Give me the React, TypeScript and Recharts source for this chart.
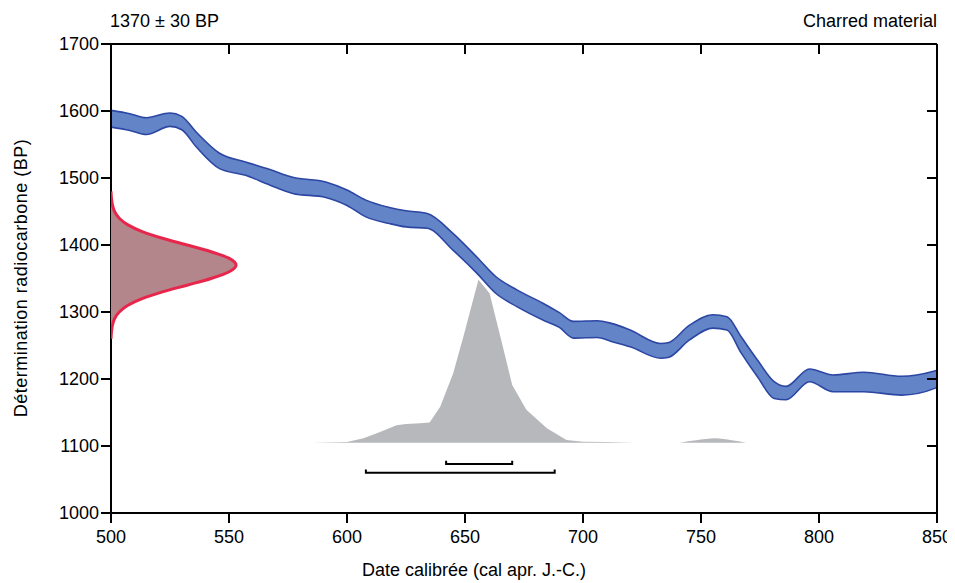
import { Area, ComposedChart, Line, XAxis, YAxis } from 'recharts'

// calibration curve band (cal AD, lower BP, upper BP)
const bandYears = [500, 508, 515, 525, 530, 536, 546, 557, 567, 577, 591, 600, 608, 618, 625, 634, 645, 655, 663, 672, 683, 690, 696, 706, 712, 720, 733, 736, 745, 755, 761, 767, 774, 781, 786, 796, 806, 819, 835, 849, 850]
const bandLow = [1576, 1571, 1565, 1577, 1572, 1547, 1514, 1504, 1490, 1477, 1471, 1459, 1442, 1432, 1427, 1425, 1392, 1358, 1328, 1308, 1288, 1277, 1261, 1262, 1256, 1248, 1231, 1232, 1258, 1276, 1273, 1239, 1203, 1171, 1169, 1196, 1181, 1181, 1176, 1186, 1188]
const bandHigh = [1601, 1596, 1590, 1597, 1592, 1569, 1537, 1524, 1513, 1501, 1494, 1482, 1467, 1456, 1451, 1447, 1417, 1382, 1353, 1333, 1313, 1299, 1286, 1287, 1283, 1273, 1253, 1254, 1280, 1296, 1293, 1263, 1228, 1196, 1189, 1215, 1206, 1210, 1204, 1212, 1213]

// calibrated probability (drawn on top of base 1105)
const probBase = 1105
const probYears = [585, 595, 600, 607, 614, 621, 625, 631, 635, 639.5, 645, 649.3, 655.7, 660.4, 665, 670, 676, 684.7, 693, 700, 710, 722]
const probTop = [1105, 1105.5, 1106, 1111.5, 1121, 1131, 1133, 1134, 1135, 1158.7, 1208.5, 1263, 1348, 1328, 1263, 1191, 1154, 1126.5, 1109, 1106.5, 1106, 1105]
const bumpYears = [741, 748, 756, 763, 769]
const bumpTop = [1105, 1108.5, 1111.5, 1108.5, 1105]

// radiocarbon date distribution (BP, cal AD extent)
const dateBP = [1260, 1270, 1280, 1290, 1300, 1310, 1320, 1330, 1340, 1350, 1360, 1370, 1380, 1390, 1400, 1410, 1420, 1430, 1440, 1450, 1460, 1470, 1480]
const dateX = [500, 500.2, 500.6, 501.5, 503.5, 507.2, 513.2, 521.8, 532.2, 542.4, 550.1, 553, 550.1, 542.4, 532.2, 521.8, 513.2, 507.2, 503.5, 501.5, 500.6, 500.2, 500]

// 68% and 95% ranges
const range1 = [642, 670]
const range1Y = 1073
const range2 = [608, 688]
const range2Y = 1060
const capH = 5

const xTicks = [500, 550, 600, 650, 700, 750, 800, 850]
const yTicks = [1000, 1100, 1200, 1300, 1400, 1500, 1600, 1700]

const bandData = bandYears.map((x, i) => ({ x, band: [bandLow[i], bandHigh[i]] }))
const probData = probYears.map((x, i) => ({ x, p: [probBase, probTop[i]] }))
const bumpData = bumpYears.map((x, i) => ({ x, p: [probBase, bumpTop[i]] }))
const dateData = dateBP.map((bp, i) => ({ bp, x: dateX[i] }))
const rangeLine = (r: number[], y: number) => [
  { x: r[0], y: y + capH },
  { x: r[0], y },
  { x: r[1], y },
  { x: r[1], y: y + capH },
]

const FONT = 'Liberation Sans, Arial, Helvetica, sans-serif'
const FS = 18
const tickStyle = { fill: '#000', fontSize: FS, fontFamily: FONT }
const axisLine = { stroke: '#000', strokeWidth: 2 }
const W = 945
const H = 570
const margin = { top: 36, right: 16, bottom: 35, left: 43 }

export default function App() {
  return (
    <div style={{ position: 'relative', width: W, height: 575 }}>
      <div style={{ position: 'absolute', left: 0, top: 0 }}>
        <ComposedChart width={W} height={H} margin={margin}>
          <XAxis
            dataKey="x"
            type="number"
            domain={[500, 850]}
            allowDataOverflow
            ticks={xTicks}
            height={30}
            tickSize={10}
            tickMargin={7}
            tick={tickStyle}
            axisLine={axisLine}
            tickLine={axisLine}
          />
          <XAxis
            xAxisId="top"
            orientation="top"
            mirror
            dataKey="x"
            type="number"
            domain={[500, 850]}
            allowDataOverflow
            ticks={xTicks}
            tickSize={10}
            tickFormatter={() => ''}
            axisLine={axisLine}
            tickLine={axisLine}
          />
          <YAxis
            type="number"
            domain={[1000, 1700]}
            allowDataOverflow
            ticks={yTicks}
            width={60}
            tickSize={10}
            tickMargin={2}
            tick={tickStyle}
            axisLine={axisLine}
            tickLine={axisLine}
          />
          <YAxis
            yAxisId="right"
            orientation="right"
            mirror
            type="number"
            domain={[1000, 1700]}
            allowDataOverflow
            ticks={yTicks}
            tickSize={10}
            tickFormatter={() => ''}
            axisLine={axisLine}
            tickLine={axisLine}
          />
          <Area
            data={probData}
            dataKey="p"
            type="linear"
            fill="#b7b8bb"
            fillOpacity={1}
            stroke="none"
            isAnimationActive={false}
          />
          <Area
            data={bumpData}
            dataKey="p"
            type="monotone"
            fill="#b7b8bb"
            fillOpacity={1}
            stroke="none"
            isAnimationActive={false}
          />
          <Area
            data={bandData}
            dataKey="band"
            type="monotone"
            fill="#6384c7"
            fillOpacity={1}
            stroke="#2c46a3"
            strokeWidth={1.6}
            isAnimationActive={false}
          />
          <Line
            data={rangeLine(range1, range1Y)}
            dataKey="y"
            type="linear"
            stroke="#000"
            strokeWidth={2}
            dot={false}
            isAnimationActive={false}
          />
          <Line
            data={rangeLine(range2, range2Y)}
            dataKey="y"
            type="linear"
            stroke="#000"
            strokeWidth={2}
            dot={false}
            isAnimationActive={false}
          />
        </ComposedChart>
      </div>
      <div style={{ position: 'absolute', left: 0, top: 0 }}>
        <ComposedChart
          width={W}
          height={H}
          layout="vertical"
          data={dateData}
          margin={{ top: 36, right: 16, bottom: 65, left: 103 }}
        >
          <XAxis type="number" dataKey="x" domain={[500, 850]} allowDataOverflow hide />
          <YAxis type="number" dataKey="bp" domain={[1000, 1700]} allowDataOverflow reversed hide />
          <Area
            dataKey="x"
            type="monotone"
            fill="#b3868b"
            fillOpacity={1}
            stroke="#e8264b"
            strokeWidth={3}
            isAnimationActive={false}
          />
        </ComposedChart>
      </div>
      <svg
        width={W}
        height={575}
        style={{ position: 'absolute', left: 0, top: 0, pointerEvents: 'none', overflow: 'visible' }}
        fontFamily={FONT}
        fontSize={FS}
        fill="#000"
      >
        <text x={102} y={19}>1370 ± 30 BP</text>
        <text x={929} y={19} textAnchor="end">Charred material</text>
        <text x={466} y={568} textAnchor="middle">Date calibrée (cal apr. J.-C.)</text>
        <text x={19} y={270} textAnchor="middle" letterSpacing={0.5} transform="rotate(-90 19 270)">
          Détermination radiocarbone (BP)
        </text>
      </svg>
    </div>
  )
}
